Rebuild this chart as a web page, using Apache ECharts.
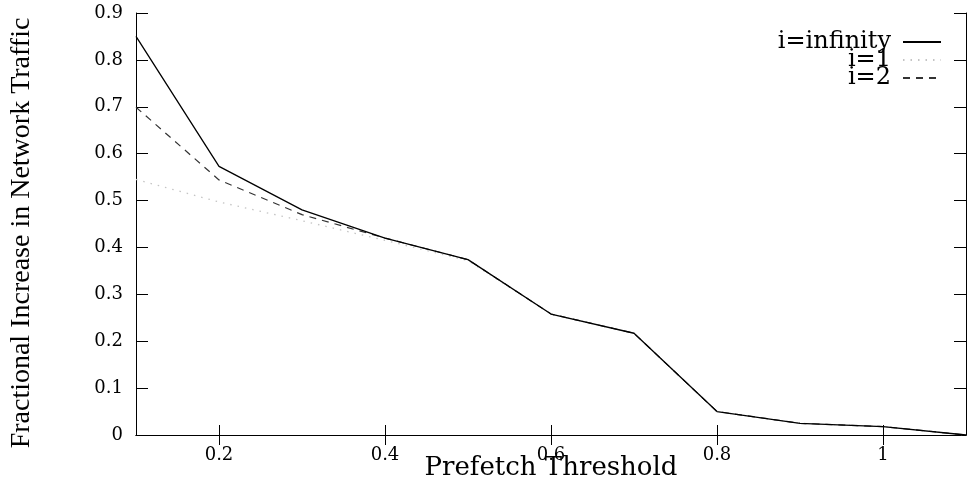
<!DOCTYPE html>
<html>
<head>
<meta charset="utf-8">
<script src="https://cdn.jsdelivr.net/npm/echarts@6/dist/echarts.min.js"></script>
<style>html,body{margin:0;padding:0;background:#fff}#c{width:971px;height:486px}</style>
</head>
<body>
<div id="c"></div>
<script>
const thresholds = [0.1, 0.2, 0.3, 0.4, 0.5, 0.6, 0.7, 0.8, 0.9, 1.0, 1.1];
const iInfinity = [0.85, 0.573, 0.48, 0.42, 0.374, 0.258, 0.217, 0.05, 0.025, 0.018, 0];
const i1 = [0.545, 0.497, 0.457, 0.415, 0.372, 0.258, 0.217, 0.05, 0.025, 0.018, 0];
const i2 = [0.699, 0.544, 0.47, 0.42, 0.374, 0.258, 0.217, 0.05, 0.025, 0.018, 0];
const xTicks = [0.2, 0.4, 0.6, 0.8, 1.0];
const seriesNames = ['i=infinity', 'i=1', 'i=2'];

const pair = (ys) => thresholds.map((x, k) => [x, ys[k]]);
const serif = 'DejaVu Serif';
const fmt = (v) => String(Math.round(v * 10) / 10);

const chart = echarts.init(document.getElementById('c'));
chart.setOption({
  animation: false,
  backgroundColor: '#fff',
  grid: { left: 136, right: 5, top: 13, bottom: 51, outerBoundsMode: 'none', containLabel: false },
  legend: {
    data: seriesNames,
    orient: 'vertical',
    align: 'right',
    right: 29,
    top: 30,
    padding: 0,
    itemWidth: 38,
    itemHeight: 12,
    itemGap: -6,
    itemStyle: { opacity: 0 },
    textStyle: { fontFamily: serif, fontSize: 24, color: '#000', lineHeight: 23, padding: [0, 7, 0, 0] }
  },
  xAxis: [{
    type: 'value', min: 0.1, max: 1.1,
    name: 'Prefetch Threshold', nameLocation: 'middle', nameGap: 20, nameMoveOverlap: false,
    nameTextStyle: { fontFamily: serif, fontSize: 26, color: '#000' },
    axisLine: { show: true, lineStyle: { color: '#000', width: 1 } },
    axisTick: { show: true, inside: true, length: 10, customValues: xTicks, lineStyle: { color: '#000' } },
    axisLabel: { customValues: xTicks, formatter: fmt, fontFamily: serif, fontSize: 18, color: '#000', margin: 11 },
    splitLine: { show: false }
  }, {
    type: 'value', min: 0.1, max: 1.1, position: 'top',
    axisLine: { show: true, lineStyle: { color: '#000', width: 1 } },
    axisTick: { show: true, inside: true, length: 10, customValues: xTicks, lineStyle: { color: '#000' } },
    axisLabel: { show: false },
    splitLine: { show: false }
  }],
  yAxis: [{
    type: 'value', min: 0, max: 0.9, interval: 0.1,
    name: 'Fractional Increase in Network Traffic', nameLocation: 'middle', nameGap: 100, nameMoveOverlap: false,
    nameTextStyle: { fontFamily: 'Liberation Serif', fontSize: 28, color: '#000', padding: [0, 18, 0, 0] },
    axisLine: { show: true, lineStyle: { color: '#000', width: 1 } },
    axisTick: { show: true, inside: true, length: 12, lineStyle: { color: '#000' } },
    axisLabel: { formatter: fmt, fontFamily: serif, fontSize: 18, color: '#000', margin: 13 },
    splitLine: { show: false }
  }, {
    type: 'value', min: 0, max: 0.9, interval: 0.1, position: 'right',
    axisLine: { show: true, lineStyle: { color: '#000', width: 1 } },
    axisTick: { show: true, inside: true, length: 12, lineStyle: { color: '#000' } },
    axisLabel: { show: false },
    splitLine: { show: false }
  }],
  series: [{
    name: seriesNames[0], type: 'line', data: pair(iInfinity), symbol: 'none',
    color: '#000', lineStyle: { color: '#000', width: 1.3, type: 'solid' }, z: 5
  }, {
    name: seriesNames[1], type: 'line', data: pair(i1), symbol: 'none',
    color: '#c4c4c4', lineStyle: { color: '#c4c4c4', width: 1.3, type: [1.5, 6] }, z: 3
  }, {
    name: seriesNames[2], type: 'line', data: pair(i2), symbol: 'none',
    color: '#333', lineStyle: { color: '#333', width: 1.2, type: [7, 6] }, z: 4
  }]
});
</script>
</body>
</html>
